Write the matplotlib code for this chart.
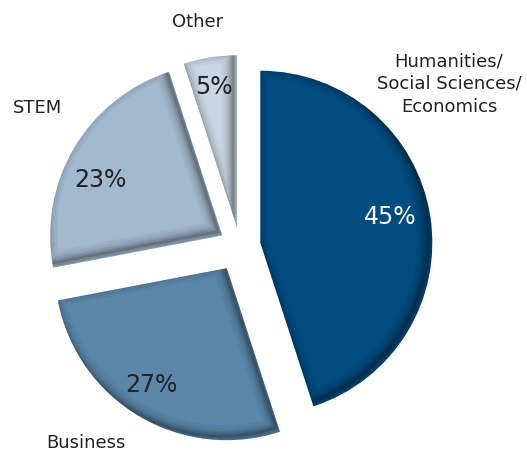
import matplotlib
matplotlib.use("Agg")
import matplotlib.pyplot as plt
from matplotlib.patches import PathPatch
from matplotlib.transforms import Affine2D

# shares of majors, clockwise from 12 o'clock
labels = ["Humanities/\nSocial Sciences/\nEconomics", "Business", "STEM", "Other"]
shares = [45, 27, 23, 5]
colors = ["#004b80", "#5b87ab", "#a3b9cf", "#c8d6e4"]
explode = [0.12, 0.15, 0.12, 0.11]

plt.rcParams["font.family"] = "DejaVu Sans"

fig = plt.figure(figsize=(5.27, 4.52), dpi=100)
ax = fig.add_axes([0, 0, 1, 1])

wedges, _ = ax.pie(shares, colors=colors, explode=explode, startangle=90,
                   counterclock=False, radius=1.0,
                   wedgeprops=dict(linewidth=0, zorder=2))
ax.set_xlim(-1.395, 1.669)
ax.set_ylim(-1.192, 1.436)
ax.axis("off")

for w in wedges:
    path = w.get_path()
    # bevel: darken the lower/right rims inside the slice
    for lw, a in [(16, 0.04), (12, 0.05), (8, 0.08), (5, 0.11), (2, 0.16)]:
        tr = w.get_transform() + Affine2D().translate(-4, 4)
        shade = PathPatch(path, transform=tr, fill=False, edgecolor="black",
                          lw=lw, alpha=a, zorder=3)
        shade.set_clip_path(w)
        ax.add_patch(shade)

# category names
name_pos = [(449, 84), (86, 443), (37, 108), (198, 22)]
for name, (px, py) in zip(labels, name_pos):
    fig.text(px / 527, 1 - py / 452, name, ha="center", va="center",
             fontsize=13, color="#222222", linespacing=1.35)

# percentages
pct_pos = [(390, 217), (151, 385), (100, 180), (214, 87)]
pct_col = ["white", "#222222", "#222222", "#222222"]
for v, (px, py), c in zip(shares, pct_pos, pct_col):
    fig.text(px / 527, 1 - py / 452, f"{v}%", ha="center", va="center",
             fontsize=17, color=c)

fig.savefig("out.png", dpi=100)
